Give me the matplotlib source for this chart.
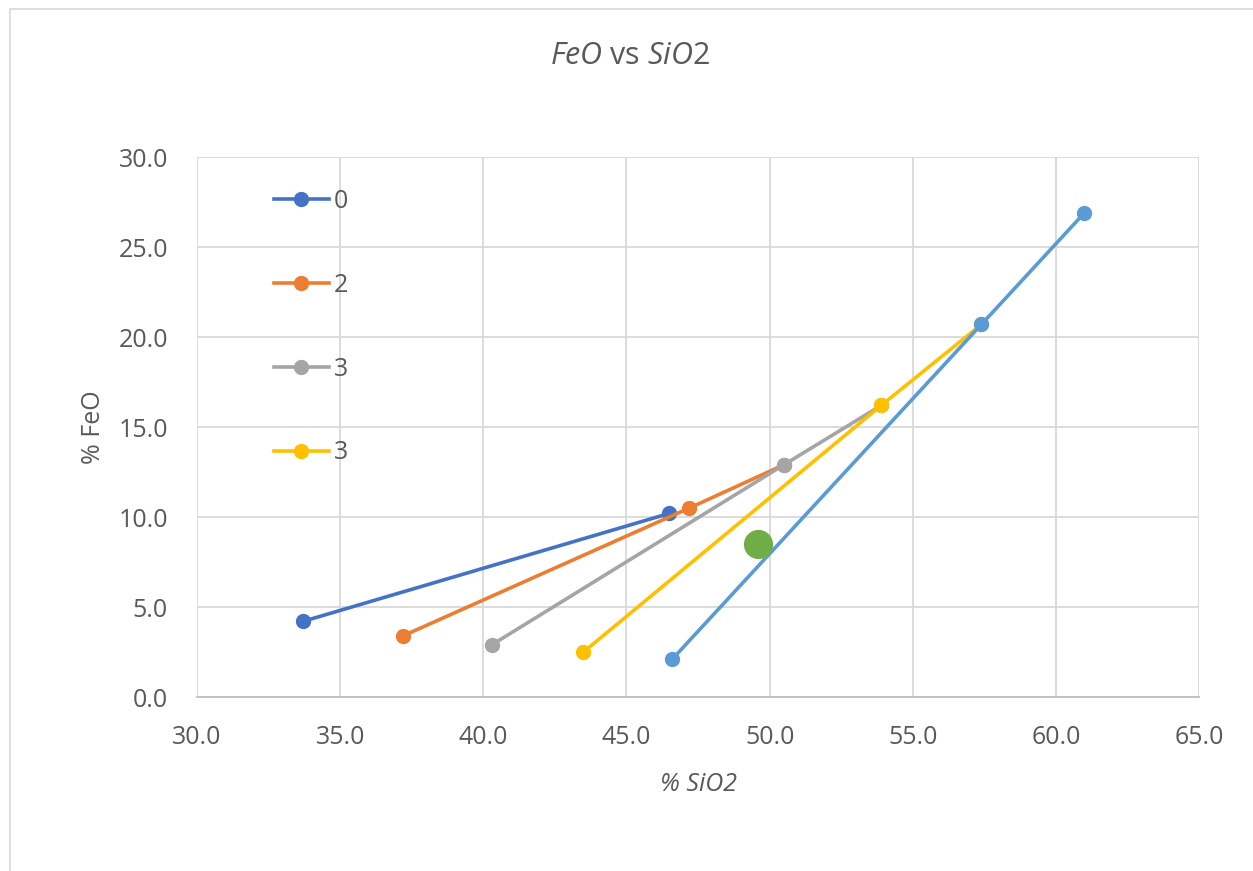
import matplotlib
matplotlib.use('Agg')
from matplotlib import pyplot as plt
from matplotlib.patches import Rectangle

plt.rcParams['font.family'] = ['Open Sans', 'DejaVu Sans']
plt.rcParams['mathtext.fontset'] = 'custom'
plt.rcParams['mathtext.rm'] = 'Open Sans'
plt.rcParams['mathtext.it'] = 'Open Sans:italic'

# series data (SiO2 %, FeO %)
sio2_0 = [33.7, 46.5]
feo_0 = [4.2, 10.2]
sio2_2 = [37.2, 47.2, 50.5]
feo_2 = [3.4, 10.5, 12.9]
sio2_3a = [40.3, 50.5, 53.9]
feo_3a = [2.9, 12.9, 16.2]
sio2_3b = [43.5, 53.9, 57.4]
feo_3b = [2.5, 16.2, 20.7]
sio2_4 = [46.6, 57.4, 61.0]
feo_4 = [2.1, 20.7, 26.9]
sio2_pt = [49.6]
feo_pt = [8.5]

labels = ['0', '2', '3', '3']
colors = ['#4472C4', '#ED7D31', '#A5A5A5', '#FFC000', '#5B9BD5', '#70AD47']
txt = '#595959'

fig = plt.figure(figsize=(12.53, 8.71), dpi=100)
# chart area border
fig.patches.append(Rectangle((10/1253, -0.1), 1.2, 1 - 9/871 + 0.1, transform=fig.transFigure,
                             fill=False, edgecolor='#D9D9D9', lw=1.2))
ax = fig.add_axes([197/1253, 174/871, 1002/1253, 540/871])

series = [(sio2_0, feo_0), (sio2_2, feo_2), (sio2_3a, feo_3a), (sio2_3b, feo_3b), (sio2_4, feo_4)]
for i, (xs, ys) in enumerate(series):
    lab = labels[i] if i < len(labels) else '_nolegend_'
    ax.plot(xs, ys, '-o', color=colors[i], lw=2.6, ms=10, label=lab, zorder=3 + i)
ax.plot(sio2_pt, feo_pt, 'o', color=colors[5], ms=20, label='_nolegend_', zorder=10)

ax.set_xlim(30, 65)
ax.set_ylim(0, 30)
ax.set_xticks([30, 35, 40, 45, 50, 55, 60, 65])
ax.set_yticks([0, 5, 10, 15, 20, 25, 30])
ax.set_xticklabels(['%.1f' % v for v in ax.get_xticks()])
ax.set_yticklabels(['%.1f' % v for v in ax.get_yticks()])
ax.tick_params(length=0, labelsize=18, colors=txt)
ax.tick_params(axis='x', pad=20)
ax.tick_params(axis='y', pad=21)
ax.grid(color='#D9D9D9', lw=1.3)
ax.set_axisbelow(True)
for s in ['top', 'right', 'left']:
    ax.spines[s].set_visible(False)
ax.spines['bottom'].set_color('#BFBFBF')
ax.spines['bottom'].set_linewidth(1.3)

ax.set_xlabel('% SiO2', fontsize=18, color=txt, style='italic', labelpad=16)
ax.set_ylabel('% FeO', fontsize=18, color=txt, labelpad=9)
fig.text(630/1253, 1 - 56/871, r'$\mathit{FeO}$ vs $\mathit{SiO2}$', fontsize=22, color=txt,
         ha='center', va='center')

leg = ax.legend(loc='upper left', bbox_to_anchor=(0.054, 0.982), frameon=False, fontsize=18,
                handlelength=2.2, labelspacing=2.35, handletextpad=0.2)
for t in leg.get_texts():
    t.set_color(txt)

fig.savefig('out.png', dpi=100)
